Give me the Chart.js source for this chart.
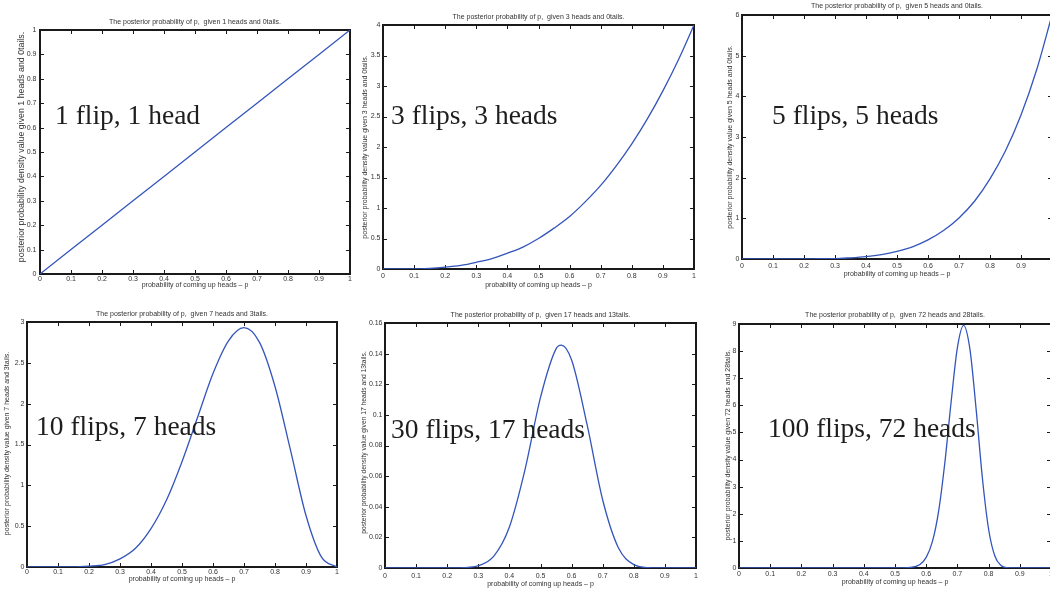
<!DOCTYPE html>
<html>
<head>
<meta charset="utf-8">
<script src="https://cdn.jsdelivr.net/npm/chart.js@4.4.1/dist/chart.umd.min.js"></script>
<style>
  html, body { margin: 0; padding: 0; background: #fff; overflow: hidden; }
  #wrap { position: relative; width: 1050px; height: 591px; overflow: hidden; }
  #wrap canvas { position: absolute; left: 0; top: 0; }
</style>
</head>
<body>
<div id="wrap"></div>
<script>
// x축 눈금 (p)
const pTicks = [0, 0.1, 0.2, 0.3, 0.4, 0.5, 0.6, 0.7, 0.8, 0.9, 1];

// 1 flip, 1 head
const flip1X = [0, 0.1, 0.2, 0.3, 0.4, 0.5, 0.6, 0.7, 0.8, 0.9, 1];
const flip1Y = [0, 0.1, 0.2, 0.3, 0.4, 0.5, 0.6, 0.7, 0.8, 0.9, 1];
const flip1YTicks = [0, 0.1, 0.2, 0.3, 0.4, 0.5, 0.6, 0.7, 0.8, 0.9, 1];

// 3 flips, 3 heads
const flip3X = [0, 0.05, 0.1, 0.15, 0.2, 0.25, 0.3, 0.35, 0.4, 0.45, 0.5, 0.55, 0.6, 0.65, 0.7, 0.75, 0.8, 0.85, 0.9, 0.95, 1];
const flip3Y = [0, 0, 0, 0.01, 0.03, 0.06, 0.11, 0.17, 0.26, 0.36, 0.5, 0.67, 0.86, 1.1, 1.37, 1.69, 2.05, 2.46, 2.92, 3.43, 4];
const flip3YTicks = [0, 0.5, 1, 1.5, 2, 2.5, 3, 3.5, 4];

// 5 flips, 5 heads
const flip5X = [0, 0.05, 0.1, 0.15, 0.2, 0.25, 0.3, 0.35, 0.4, 0.45, 0.5, 0.55, 0.6, 0.65, 0.7, 0.75, 0.8, 0.85, 0.9, 0.95, 1];
const flip5Y = [0, 0, 0, 0, 0, 0.01, 0.01, 0.03, 0.06, 0.11, 0.19, 0.3, 0.47, 0.7, 1.01, 1.42, 1.97, 2.66, 3.54, 4.64, 6];
const flip5YTicks = [0, 1, 2, 3, 4, 5, 6];

// 10 flips, 7 heads
const flip10X = [0, 0.05, 0.1, 0.15, 0.2, 0.25, 0.3, 0.35, 0.4, 0.45, 0.5, 0.55, 0.6, 0.65, 0.7, 0.75, 0.8, 0.85, 0.9, 0.95, 1];
const flip10Y = [0, 0, 0, 0, 0.01, 0.03, 0.1, 0.23, 0.47, 0.82, 1.29, 1.83, 2.37, 2.77, 2.93, 2.75, 2.21, 1.43, 0.63, 0.12, 0];
const flip10YTicks = [0, 0.5, 1, 1.5, 2, 2.5, 3];

// 30 flips, 17 heads
const flip30X = [0, 0.1, 0.2, 0.25, 0.3, 0.35, 0.4, 0.45, 0.5, 0.55, 0.567, 0.6, 0.65, 0.7, 0.75, 0.8, 0.85, 0.9, 1];
const flip30Y = [0, 0, 0, 0.0002, 0.0015, 0.0078, 0.0268, 0.0641, 0.1114, 0.1431, 0.1455, 0.1358, 0.0934, 0.0444, 0.0134, 0.0022, 0.0002, 0, 0];
const flip30YTicks = [0, 0.02, 0.04, 0.06, 0.08, 0.1, 0.12, 0.14, 0.16];

// 100 flips, 72 heads
const flip100X = [0, 0.1, 0.2, 0.3, 0.4, 0.5, 0.55, 0.58, 0.6, 0.62, 0.64, 0.66, 0.68, 0.7, 0.72, 0.74, 0.76, 0.78, 0.8, 0.82, 0.84, 0.86, 0.88, 0.9, 1];
const flip100Y = [0, 0, 0, 0, 0, 0, 0.02, 0.13, 0.39, 0.98, 2.11, 3.91, 6.14, 8.13, 8.95, 8.08, 5.86, 3.33, 1.43, 0.44, 0.09, 0.01, 0, 0, 0];
const flip100YTicks = [0, 1, 2, 3, 4, 5, 6, 7, 8, 9];

// 텍스트
const chartTitles = [
  'The posterior probability of p,  given 1 heads and 0tails.',
  'The posterior probability of p,  given 3 heads and 0tails.',
  'The posterior probability of p,  given 5 heads and 0tails.',
  'The posterior probability of p,  given 7 heads and 3tails.',
  'The posterior probability of p,  given 17 heads and 13tails.',
  'The posterior probability of p,  given 72 heads and 28tails.'
];
const yTitles = [
  'posterior probability density value given 1 heads and 0tails.',
  'posterior probability density value given 3 heads and 0tails.',
  'posterior probability density value given 5 heads and 0tails.',
  'posterior probability density value given 7 heads and 3tails.',
  'posterior probability density value given 17 heads and 13tails.',
  'posterior probability density value given 72 heads and 28tails.'
];
const xTitle = 'probability of coming up heads \u2013 p';
const notes = ['1 flip, 1 head', '3 flips, 3 heads', '5 flips, 5 heads', '10 flips, 7 heads', '30 flips, 17 heads', '100 flips, 72 heads'];

const seriesX = [flip1X, flip3X, flip5X, flip10X, flip30X, flip100X];
const seriesY = [flip1Y, flip3Y, flip5Y, flip10Y, flip30Y, flip100Y];
const yTickSets = [flip1YTicks, flip3YTicks, flip5YTicks, flip10YTicks, flip30YTicks, flip100YTicks];

// 각 패널의 배치 (plot box: left, top, right, bottom)
const layouts = [
  { box: [40, 30, 350, 274], titleGap: 8, xPad: 1, xTitleGap: 11, yPad: 3.5, yTitleGap: 18, yTitleSize: 8.8, yShift: -5, note: [55, 124] },
  { box: [383, 25, 694, 269], titleGap: 8, xPad: 2.5, xTitleGap: 16.5, yPad: 2.5, yTitleGap: 18, yTitleSize: 7, yShift: 0, note: [391, 124] },
  { box: [742, 15, 1052, 259], titleGap: 9, xPad: 2.5, xTitleGap: 15, yPad: 2.5, yTitleGap: 12, yTitleSize: 7, yShift: 0, note: [772, 124] },
  { box: [27, 322, 337, 567], titleGap: 8, xPad: 1, xTitleGap: 12.5, yPad: 2.5, yTitleGap: 19.5, yTitleSize: 7, yShift: -1, note: [36, 435] },
  { box: [385, 323, 696, 568], titleGap: 8, xPad: 3.5, xTitleGap: 16.5, yPad: 2.5, yTitleGap: 21, yTitleSize: 6.7, yShift: -3, note: [391, 438] },
  { box: [739, 324, 1051, 568], titleGap: 9, xPad: 1.5, xTitleGap: 14.5, yPad: 2.5, yTitleGap: 11, yTitleSize: 7, yShift: -1, note: [768, 437] }
];

const CANVAS_W = 1060, CANVAS_H = 591;
const Y_AXIS_W = 20, X_AXIS_H = 12;
const smallFont = '"Liberation Sans", Arial, sans-serif';

// MATLAB 스타일 축 상자, 안쪽 눈금, 제목들
const matlabPlugin = {
  id: 'matlab',
  beforeDatasetsDraw(chart, args, o) {
    const { ctx, chartArea: a, scales } = chart;
    ctx.save();
    ctx.strokeStyle = '#1a1a1a';
    ctx.lineWidth = 1;
    ctx.beginPath();
    scales.x.ticks.forEach(t => {
      const px = Math.round(scales.x.getPixelForValue(t.value)) + 0.5;
      ctx.moveTo(px, a.bottom); ctx.lineTo(px, a.bottom - 4);
      ctx.moveTo(px, a.top); ctx.lineTo(px, a.top + 4);
    });
    scales.y.ticks.forEach(t => {
      const py = Math.round(scales.y.getPixelForValue(t.value)) + 0.5;
      ctx.moveTo(a.left, py); ctx.lineTo(a.left + 4, py);
      ctx.moveTo(a.right, py); ctx.lineTo(a.right - 4, py);
    });
    ctx.stroke();
    ctx.lineWidth = 2;
    ctx.strokeRect(a.left, a.top, a.right - a.left, a.bottom - a.top);
    ctx.restore();
  },
  afterDraw(chart, args, o) {
    const { ctx, chartArea: a } = chart;
    const cx = (a.left + a.right) / 2;
    const cy = (a.top + a.bottom) / 2;
    ctx.save();
    ctx.fillStyle = '#333';
    ctx.textAlign = 'center';
    ctx.textBaseline = 'middle';
    ctx.font = '7px ' + smallFont;
    ctx.fillText(o.title, cx, a.top - o.titleGap);
    ctx.fillText(o.xTitle, cx, a.bottom + o.xTitleGap);

    ctx.save();
    ctx.translate(a.left - o.yTitleGap, cy + o.yShift);
    ctx.rotate(-Math.PI / 2);
    ctx.font = o.yTitleSize + 'px ' + smallFont;
    ctx.fillText(o.yTitle, 0, 0);
    ctx.restore();

    ctx.fillStyle = '#1e1e1e';
    ctx.font = '27.5px "Liberation Serif", "Times New Roman", serif';
    ctx.textAlign = 'left';
    ctx.textBaseline = 'alphabetic';
    ctx.fillText(o.note, o.note_x, o.note_y);
    ctx.restore();
  }
};

const wrap = document.getElementById('wrap');

layouts.forEach((lay, i) => {
  const canvas = document.createElement('canvas');
  canvas.width = CANVAS_W;
  canvas.height = CANVAS_H;
  canvas.style.width = CANVAS_W + 'px';
  canvas.style.height = CANVAS_H + 'px';
  wrap.appendChild(canvas);

  const [L, T, R, B] = lay.box;
  const yTicks = yTickSets[i];
  const points = seriesX[i].map((x, k) => ({ x: x, y: seriesY[i][k] }));

  new Chart(canvas, {
    type: 'line',
    data: {
      datasets: [{
        data: points,
        borderColor: '#3355bb',
        borderWidth: 1.3,
        pointRadius: 0,
        fill: false,
        cubicInterpolationMode: i === 0 ? 'default' : 'monotone',
        tension: i === 0 ? 0 : 0.4
      }]
    },
    options: {
      responsive: false,
      animation: false,
      devicePixelRatio: 1,
      events: [],
      layout: {
        padding: { left: L - Y_AXIS_W, top: T, right: CANVAS_W - R, bottom: CANVAS_H - B - X_AXIS_H }
      },
      scales: {
        x: {
          type: 'linear',
          min: 0,
          max: 1,
          afterBuildTicks: s => { s.ticks = pTicks.map(v => ({ value: v })); },
          afterFit: s => { s.height = X_AXIS_H; },
          grid: { display: false, drawTicks: false },
          border: { display: false },
          ticks: {
            autoSkip: false,
            maxRotation: 0,
            padding: lay.xPad,
            color: '#333',
            font: { family: smallFont, size: 7 },
            callback: v => String(v)
          }
        },
        y: {
          type: 'linear',
          min: yTicks[0],
          max: yTicks[yTicks.length - 1],
          afterBuildTicks: s => { s.ticks = yTicks.map(v => ({ value: v })); },
          afterFit: s => { s.width = Y_AXIS_W; },
          grid: { display: false, drawTicks: false },
          border: { display: false },
          ticks: {
            autoSkip: false,
            padding: lay.yPad,
            color: '#333',
            font: { family: smallFont, size: 7 },
            callback: v => String(v)
          }
        }
      },
      plugins: {
        legend: { display: false },
        tooltip: { enabled: false },
        matlab: {
          title: chartTitles[i],
          titleGap: lay.titleGap,
          xTitle: xTitle,
          xTitleGap: lay.xTitleGap,
          yTitle: yTitles[i],
          yTitleGap: lay.yTitleGap,
          yTitleSize: lay.yTitleSize,
          yShift: lay.yShift,
          note: notes[i],
          note_x: lay.note[0],
          note_y: lay.note[1]
        }
      }
    },
    plugins: [matlabPlugin]
  });
});
</script>
</body>
</html>
